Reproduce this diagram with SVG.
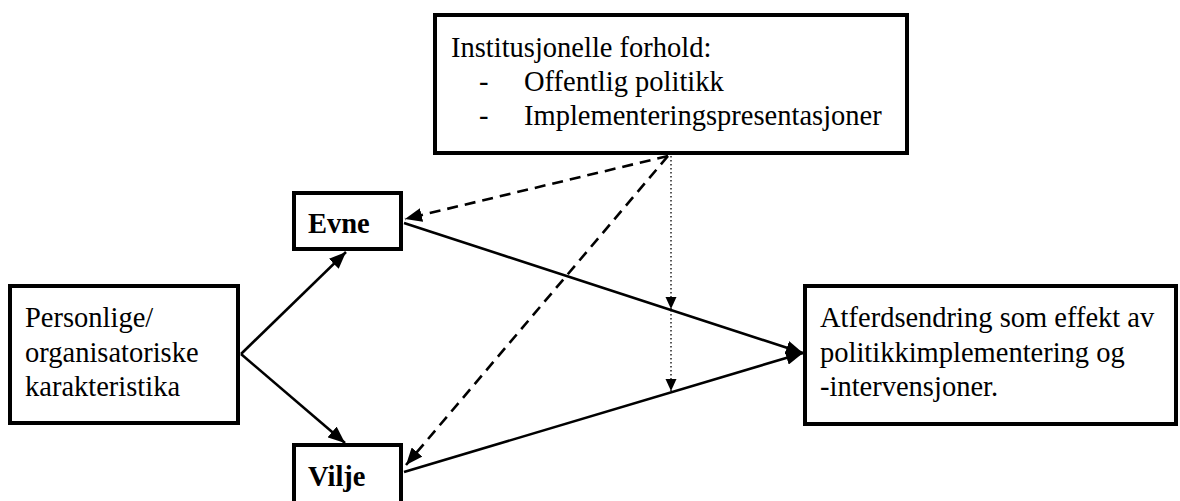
<svg xmlns="http://www.w3.org/2000/svg" width="1180" height="501" viewBox="0 0 1180 501">
<style>
.box{fill:#fff;stroke:#000;stroke-width:4}
.t{font-family:"Liberation Serif","Times New Roman",serif;font-size:28.5px;fill:#000}
.b{font-weight:bold}
.solid{fill:none;stroke:#000;stroke-width:2.6}
.dash{fill:none;stroke:#000;stroke-width:2.6;stroke-dasharray:11 7}
.dot{fill:none;stroke:#000;stroke-width:1.3;stroke-dasharray:1.5 2.5}
</style>
<defs>
<marker id="ah" markerUnits="userSpaceOnUse" markerWidth="18" markerHeight="14" refX="17" refY="7" orient="auto"><path d="M0,0 L17,7 L0,14 z" fill="#000"/></marker>
<marker id="ahs" markerUnits="userSpaceOnUse" markerWidth="12" markerHeight="12" refX="12" refY="5.5" orient="auto"><path d="M0,0 L12,5.5 L0,11 z" fill="#000"/></marker>
</defs>
<g id="connectors">
<line class="solid" x1="241" y1="354" x2="346" y2="252" marker-end="url(#ah)"/>
<line class="solid" x1="241" y1="354" x2="345" y2="443" marker-end="url(#ah)"/>
<line class="solid" x1="404" y1="223" x2="803" y2="353" marker-end="url(#ah)"/>
<line class="solid" x1="404" y1="472" x2="803" y2="353" marker-end="url(#ah)"/>
<line class="dash" x1="668" y1="156" x2="405" y2="219" marker-end="url(#ah)"/>
<line class="dash" x1="668" y1="156" x2="406" y2="465" marker-end="url(#ah)"/>
<line class="dot" x1="671" y1="156" x2="671" y2="309" marker-end="url(#ahs)"/>
<line class="dot" x1="671" y1="310" x2="671" y2="391" marker-end="url(#ahs)"/>
</g>
<g id="institusjonelle">
<rect class="box" x="435" y="15" width="472" height="138"/>
<text class="t" x="451" y="57">Institusjonelle forhold:</text>
<text class="t" x="479" y="91">-</text>
<text class="t" x="524" y="91">Offentlig politikk</text>
<text class="t" x="479" y="125">-</text>
<text class="t" x="524" y="125">Implementeringspresentasjoner</text>
</g>
<g id="personlige">
<rect class="box" x="10" y="286" width="228" height="137"/>
<text class="t" x="25" y="327">Personlige/</text>
<text class="t" x="25" y="362">organisatoriske</text>
<text class="t" x="25" y="396">karakteristika</text>
</g>
<g id="evne">
<rect class="box" x="294" y="193" width="107" height="56"/>
<text class="t b" x="308" y="233">Evne</text>
</g>
<g id="vilje">
<rect class="box" x="294" y="445" width="107" height="70"/>
<text class="t b" x="308" y="486">Vilje</text>
</g>
<g id="atferdsendring">
<rect class="box" x="805" y="286" width="371" height="138"/>
<text class="t" x="820" y="327">Atferdsendring som effekt av</text>
<text class="t" x="820" y="362">politikkimplementering og</text>
<text class="t" x="820" y="396">-intervensjoner.</text>
</g>
</svg>
